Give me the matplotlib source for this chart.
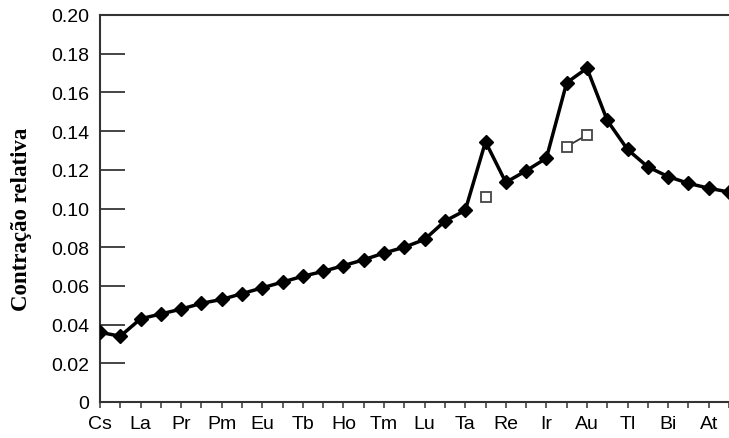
import numpy as np
import matplotlib
matplotlib.use('Agg')
import matplotlib.pyplot as plt

# atomic numbers Cs (55) .. Rn (86)
elements = ['Cs', 'Ba', 'La', 'Ce', 'Pr', 'Nd', 'Pm', 'Sm', 'Eu', 'Gd', 'Tb',
            'Dy', 'Ho', 'Er', 'Tm', 'Yb', 'Lu', 'Hf', 'Ta', 'W', 'Re', 'Os',
            'Ir', 'Pt', 'Au', 'Hg', 'Tl', 'Pb', 'Bi', 'Po', 'At', 'Rn']
z = np.arange(55, 55 + len(elements))
contraction = [0.036, 0.034, 0.043, 0.0455, 0.048, 0.051, 0.053, 0.056,
               0.059, 0.062, 0.065, 0.0675, 0.0705, 0.0735, 0.077, 0.080,
               0.084, 0.0935, 0.099, 0.1345, 0.1135, 0.1195, 0.126, 0.165,
               0.1725, 0.1455, 0.1305, 0.1215, 0.1165, 0.113, 0.1105, 0.1085]

# open squares (W, Pt, Au)
z_open_w = [74]
val_open_w = [0.106]
z_open_ptau = [78, 79]
val_open_ptau = [0.132, 0.138]

yticks = [0, 0.02, 0.04, 0.06, 0.08, 0.10, 0.12, 0.14, 0.16, 0.18, 0.20]
ylabels = ['0', '0.02', '0.04', '0.06', '0.08', '0.10', '0.12', '0.14', '0.16', '0.18', '0.20']

plt.rcParams['font.family'] = ['Liberation Sans', 'DejaVu Sans']
fig = plt.figure(figsize=(7.29, 4.39), dpi=100)
ax = fig.add_axes([100 / 729, 36 / 439, 1 - 100 / 729, 387 / 439])

ax.plot(z, contraction, color='black', lw=2.5, marker='D', ms=7.5,
        mfc='black', mec='black', zorder=3)
ax.plot(z_open_ptau, val_open_ptau, color='#333333', lw=1.3, marker='s', ms=7,
        mfc='white', mec='#444444', mew=1.3, zorder=4)
ax.plot(z_open_w, val_open_w, ls='none', marker='s', ms=7,
        mfc='white', mec='#444444', mew=1.3, zorder=4)

ax.set_xlim(55, 55 + 629 / 20.6)
ax.set_ylim(0, 0.20)
ax.set_yticks(yticks)
ax.set_yticklabels(ylabels, fontsize=14)
ax.set_xticks(z)
ax.set_xticklabels([e if i % 2 == 0 else '' for i, e in enumerate(elements)], fontsize=14)

ax.tick_params(axis='y', direction='in', length=18, width=1.4, color='#444444', pad=8)
ax.tick_params(axis='x', direction='out', length=4.5, width=1.2, color='#444444', pad=5)
for s in ['left', 'bottom', 'top']:
    ax.spines[s].set_linewidth(1.5)
    ax.spines[s].set_color('#333333')
ax.spines['right'].set_visible(False)

fig.text(22 / 729, 1 - 219 / 439, 'Contração relativa', rotation=90,
         ha='center', va='center', fontsize=16.5, fontweight='bold',
         family='Liberation Serif')

fig.savefig('out.png', dpi=100)
